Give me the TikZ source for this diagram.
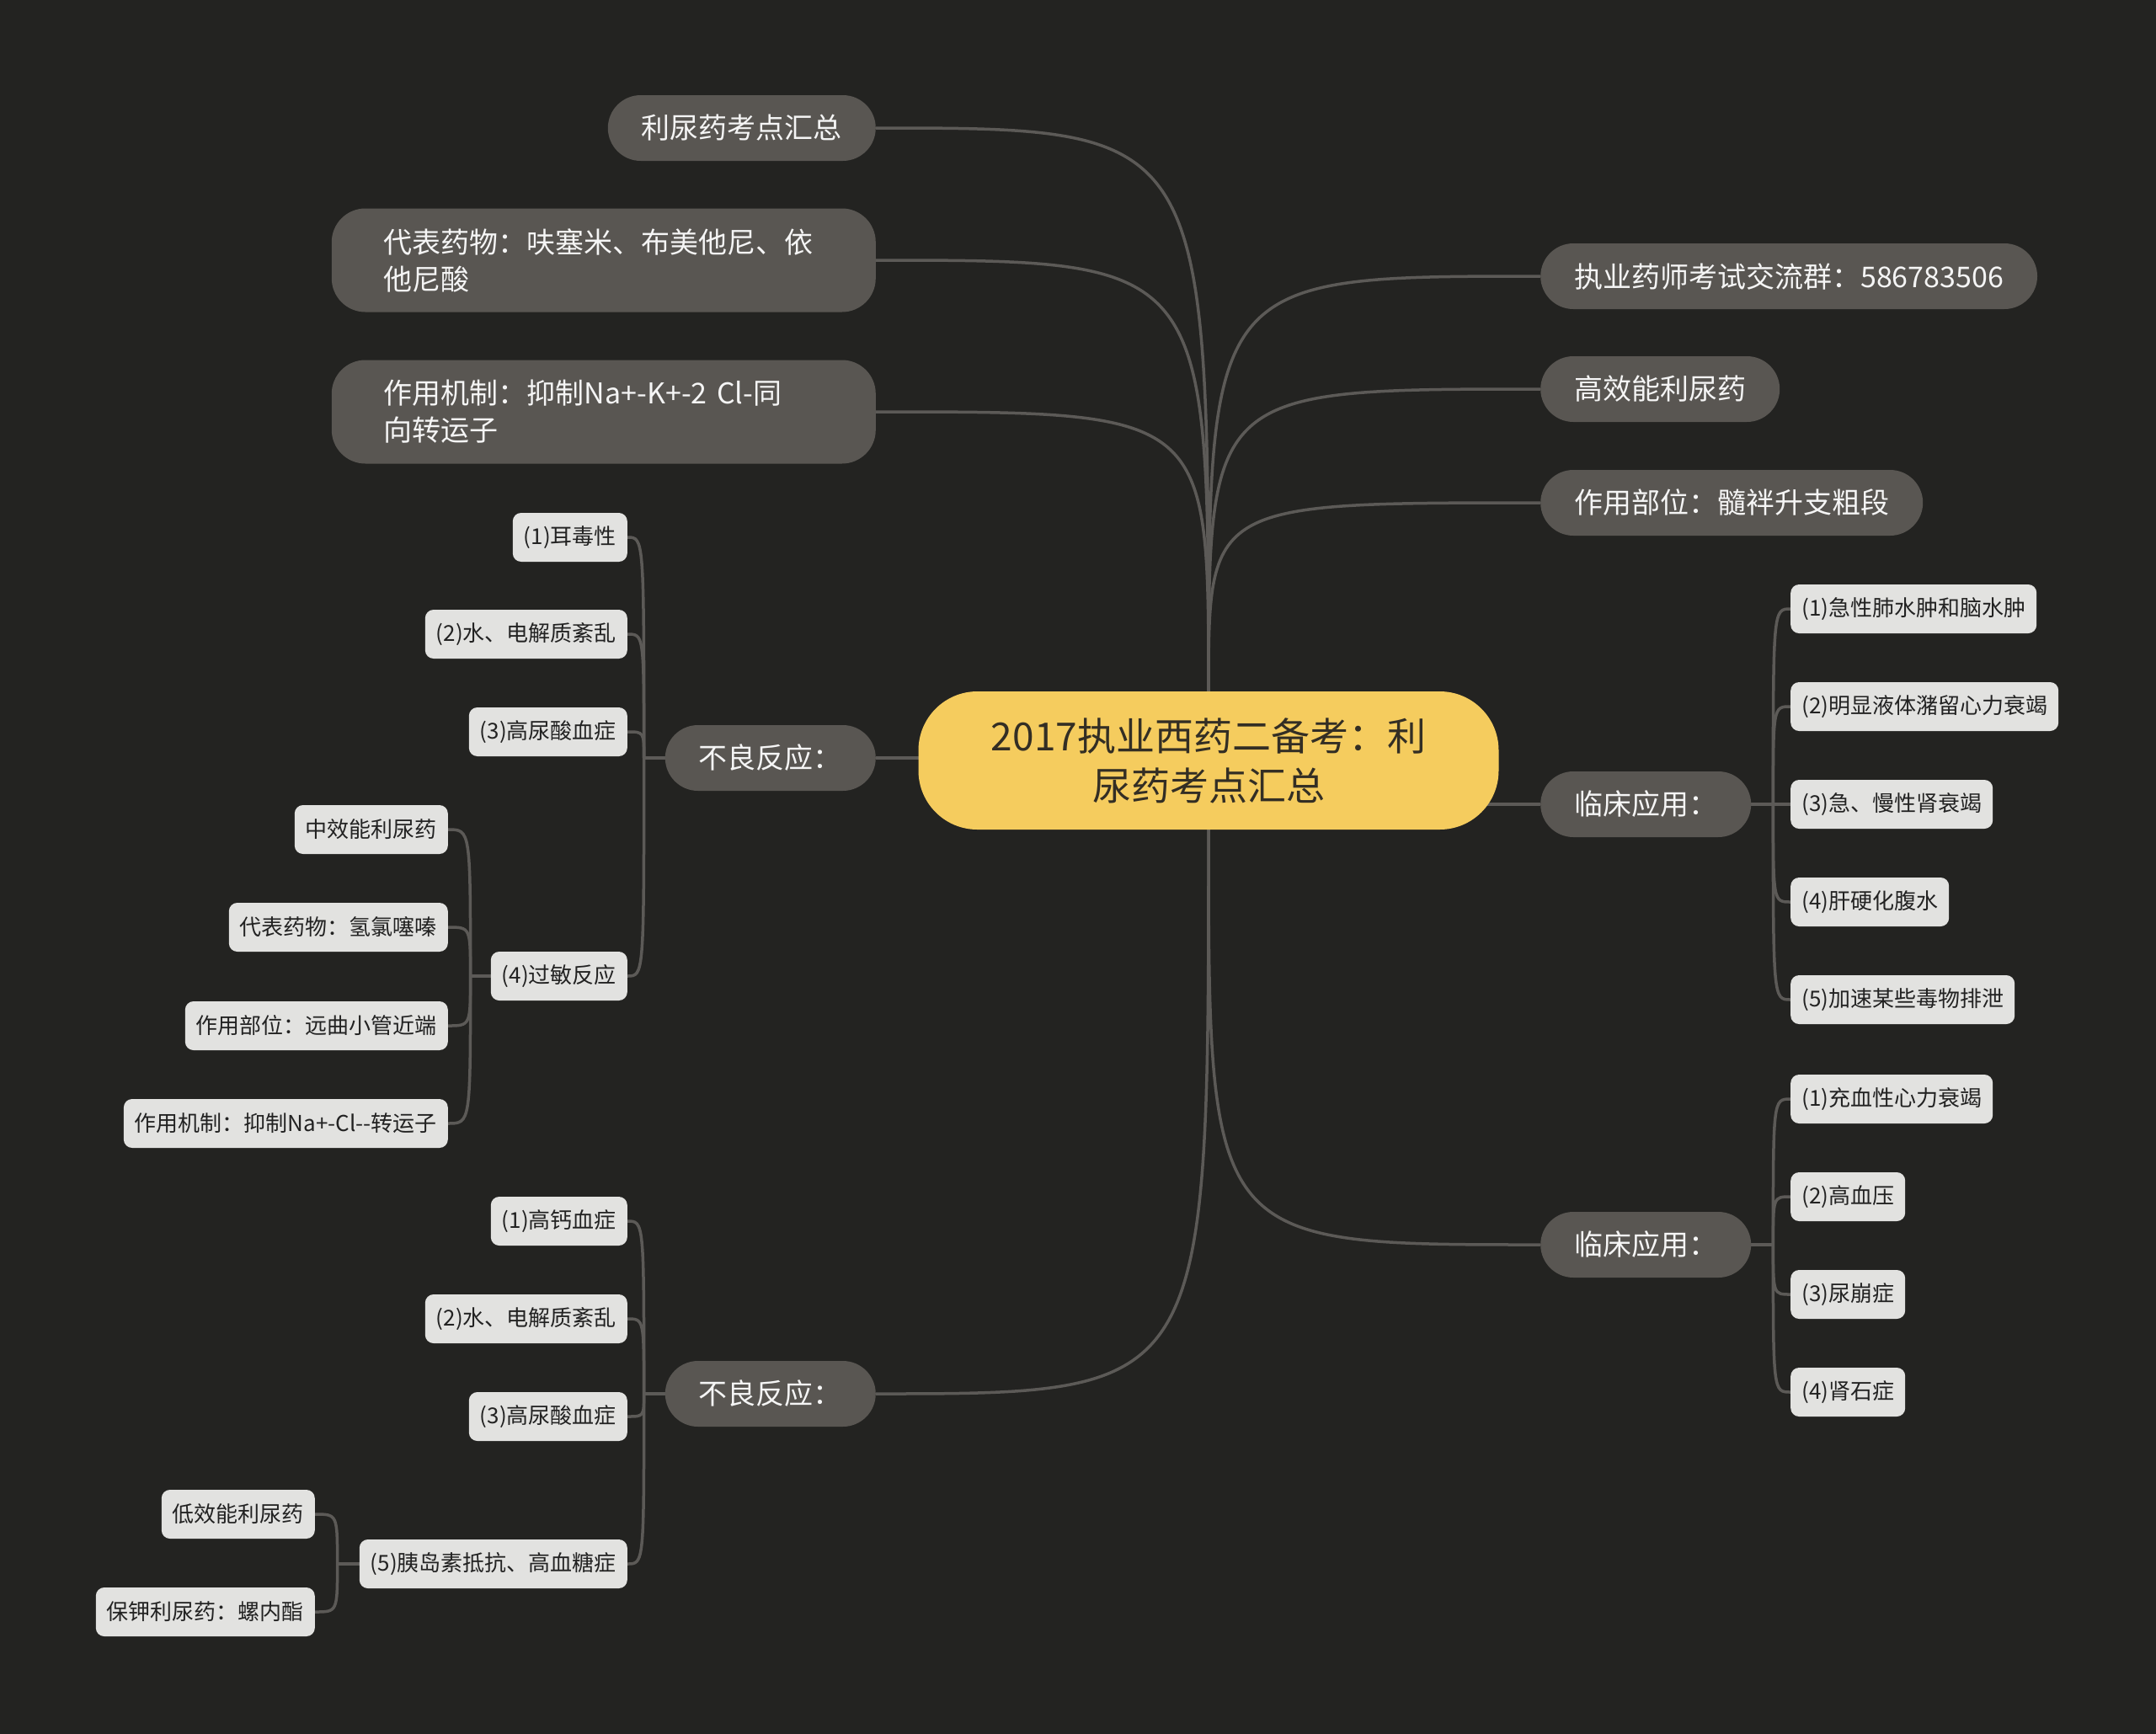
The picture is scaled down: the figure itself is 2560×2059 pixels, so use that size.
\documentclass[tikz,border=0pt]{standalone}
\usepackage{fontspec}
\setmainfont{Noto Sans CJK SC}
\usetikzlibrary{backgrounds}
\definecolor{bgcol}{RGB}{35,35,33}
\definecolor{linecol}{RGB}{92,90,87}
\definecolor{mainfill}{RGB}{89,86,82}
\definecolor{leaffill}{RGB}{226,226,224}
\definecolor{rootfill}{RGB}{245,204,94}
\definecolor{roottext}{RGB}{51,46,36}
\definecolor{leaftext}{RGB}{34,34,34}
\definecolor{maintext}{RGB}{245,245,245}
\begin{document}
\begin{tikzpicture}[x=1pt,y=-1pt,
  rootnode/.style={fill=rootfill, text=roottext, rounded corners=70pt, minimum width=689pt, minimum height=164pt, align=center, inner sep=0pt, font=\fontsize{46}{59}\selectfont},
  mainnode/.style={fill=mainfill, text=maintext, rounded corners=39pt, minimum height=78pt, inner xsep=40pt, inner ysep=0pt, font=\fontsize{34}{44}\selectfont},
  widenode/.style={mainnode, rounded corners=40pt, minimum height=123pt, text width=522pt, inner xsep=62pt, align=left},
  leafnode/.style={fill=leaffill, text=leaftext, rounded corners=10pt, minimum height=58pt, inner xsep=13pt, inner ysep=0pt, font=\fontsize{26}{30}\selectfont},
  link/.style={draw=linecol, line width=3.5pt}
]
\begin{scope}[on background layer]
  \fill[bgcol] (0,0) rectangle (2560,2059);
\end{scope}

% root
\node[rootnode] (root) at (1435,903) {2017执业西药二备考：利\\尿药考点汇总};

% left main nodes
\node[mainnode, anchor=east] (m1) at (1040,152) {利尿药考点汇总};
\node[widenode, anchor=east] (m2) at (1040,309) {代表药物：呋塞米、布美他尼、依\\他尼酸};
\node[widenode, anchor=east] (m3) at (1040,489) {作用机制：抑制Na+-K+-2 Cl-同\\向转运子};
\node[mainnode, anchor=east] (bad1) at (1040,900) {不良反应：};
\node[mainnode, anchor=east] (bad2) at (1040,1655) {不良反应：};

% right main nodes
\node[mainnode, anchor=west] (r1) at (1829,328) {执业药师考试交流群：586783506};
\node[mainnode, anchor=west] (r2) at (1829,462) {高效能利尿药};
\node[mainnode, anchor=west] (r3) at (1829,597) {作用部位：髓袢升支粗段};
\node[mainnode, anchor=west] (clin1) at (1829,955) {临床应用：};
\node[mainnode, anchor=west] (clin2) at (1829,1478) {临床应用：};

% leaves of bad1
\node[leafnode, anchor=east] (a1) at (745,638) {(1)耳毒性};
\node[leafnode, anchor=east] (a2) at (745,753) {(2)水、电解质紊乱};
\node[leafnode, anchor=east] (a3) at (745,869) {(3)高尿酸血症};
\node[leafnode, anchor=east] (a4) at (745,1159) {(4)过敏反应};
\node[leafnode, anchor=east] (c1) at (532,985) {中效能利尿药};
\node[leafnode, anchor=east] (c2) at (532,1101) {代表药物：氢氯噻嗪};
\node[leafnode, anchor=east] (c3) at (532,1218) {作用部位：远曲小管近端};
\node[leafnode, anchor=east] (c4) at (532,1334) {作用机制：抑制Na+-Cl-{}-转运子};

% leaves of bad2
\node[leafnode, anchor=east] (b1) at (745,1450) {(1)高钙血症};
\node[leafnode, anchor=east] (b2) at (745,1566) {(2)水、电解质紊乱};
\node[leafnode, anchor=east] (b3) at (745,1682) {(3)高尿酸血症};
\node[leafnode, anchor=east] (b5) at (745,1857) {(5)胰岛素抵抗、高血糖症};
\node[leafnode, anchor=east] (d1) at (374,1798) {低效能利尿药};
\node[leafnode, anchor=east] (d2) at (374,1914) {保钾利尿药：螺内酯};

% leaves of clin1
\node[leafnode, anchor=west] (e1) at (2126,723) {(1)急性肺水肿和脑水肿};
\node[leafnode, anchor=west] (e2) at (2126,839) {(2)明显液体潴留心力衰竭};
\node[leafnode, anchor=west] (e3) at (2126,955) {(3)急、慢性肾衰竭};
\node[leafnode, anchor=west] (e4) at (2126,1071) {(4)肝硬化腹水};
\node[leafnode, anchor=west] (e5) at (2126,1187) {(5)加速某些毒物排泄};

% leaves of clin2
\node[leafnode, anchor=west] (f1) at (2126,1305) {(1)充血性心力衰竭};
\node[leafnode, anchor=west] (f2) at (2126,1421) {(2)高血压};
\node[leafnode, anchor=west] (f3) at (2126,1537) {(3)尿崩症};
\node[leafnode, anchor=west] (f4) at (2126,1653) {(4)肾石症};

\begin{scope}[on background layer]
  % root to main nodes
  \foreach \n in {m1,m2,m3}
    \draw[link] (root.north) .. controls (root.north |- \n.east) .. (\n.east);
  \foreach \n in {r1,r2,r3}
    \draw[link] (root.north) .. controls (root.north |- \n.west) .. (\n.west);
  \draw[link] (root.south) .. controls (root.south |- bad2.east) .. (bad2.east);
  \draw[link] (root.south) .. controls (root.south |- clin2.west) .. (clin2.west);
  \draw[link] (bad1.east) -- (root.center |- bad1.east);
  \draw[link] (clin1.west) -- (root.center |- clin1.west);

  % bad1 group
  \draw[link] (bad1.west) -- ++(-25,0) coordinate (tb1);
  \foreach \n in {a1,a2,a3,a4}
    \draw[link] (tb1) .. controls (tb1 |- \n.east) .. (\n.east);
  \draw[link] (a4.west) -- ++(-24,0) coordinate (ta4);
  \foreach \n in {c1,c2,c3,c4}
    \draw[link] (ta4) .. controls (ta4 |- \n.east) .. (\n.east);

  % bad2 group
  \draw[link] (bad2.west) -- ++(-25,0) coordinate (tb2);
  \foreach \n in {b1,b2,b3,b5}
    \draw[link] (tb2) .. controls (tb2 |- \n.east) .. (\n.east);
  \draw[link] (b5.west) -- ++(-26,0) coordinate (tb5);
  \foreach \n in {d1,d2}
    \draw[link] (tb5) .. controls (tb5 |- \n.east) .. (\n.east);

  % clin1 group
  \draw[link] (clin1.east) -- ++(26,0) coordinate (tc1);
  \foreach \n in {e1,e2,e3,e4,e5}
    \draw[link] (tc1) .. controls (tc1 |- \n.west) .. (\n.west);

  % clin2 group
  \draw[link] (clin2.east) -- ++(26,0) coordinate (tc2);
  \foreach \n in {f1,f2,f3,f4}
    \draw[link] (tc2) .. controls (tc2 |- \n.west) .. (\n.west);
\end{scope}
\end{tikzpicture}
\end{document}
